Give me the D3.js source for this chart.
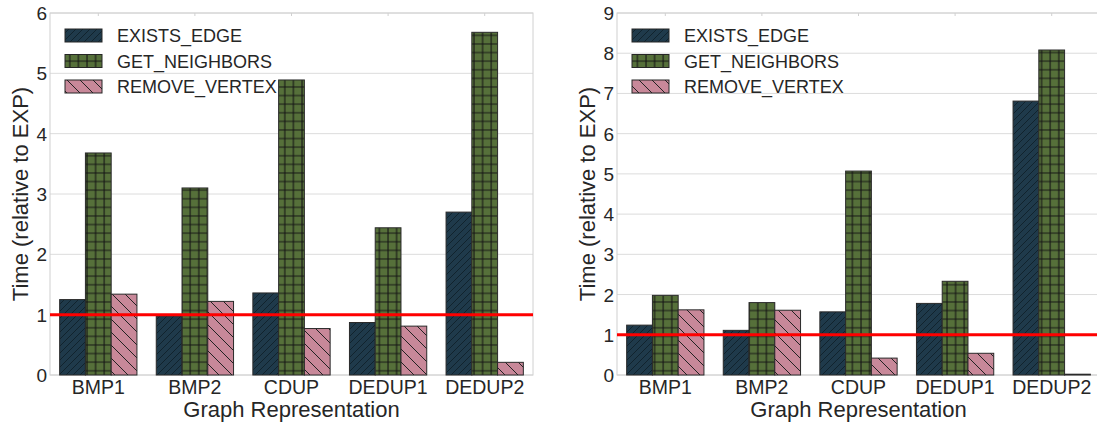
<!DOCTYPE html>
<html>
<head>
<meta charset="utf-8">
<script src="https://cdn.jsdelivr.net/npm/d3@7"></script>
<style>
  body { margin: 0; background: #fff; }
  svg { display: block; font-family: "Liberation Sans", Arial, sans-serif; }
</style>
</head>
<body>
<svg id="chart"></svg>
<script>
// chart data
const categories = ["BMP1", "BMP2", "CDUP", "DEDUP1", "DEDUP2"];
const seriesNames = ["EXISTS_EDGE", "GET_NEIGHBORS", "REMOVE_VERTEX"];

const leftExists = [1.25, 0.98, 1.36, 0.87, 2.70];
const leftNeighbors = [3.68, 3.10, 4.89, 2.44, 5.68];
const leftRemove = [1.34, 1.22, 0.77, 0.81, 0.21];

const rightExists = [1.24, 1.11, 1.57, 1.78, 6.81];
const rightNeighbors = [1.98, 1.80, 5.07, 2.33, 8.08];
const rightRemove = [1.62, 1.61, 0.42, 0.54, 0.02];

const leftTicks = [0, 1, 2, 3, 4, 5, 6];
const rightTicks = [0, 1, 2, 3, 4, 5, 6, 7, 8, 9];

const W = 1097, H = 425;
const svg = d3.select('#chart').attr('width', W).attr('height', H);

const fills = ["#1f3a4b", "#56703a", "#c88899"];
const patIds = ["hatchFwd", "hatchGrid", "hatchBack"];

// hatch patterns (aligned to page like matplotlib)
const defs = svg.append('defs');
let p = defs.append('pattern').attr('id', patIds[0]).attr('patternUnits', 'userSpaceOnUse')
  .attr('width', 7).attr('height', 7);
p.append('rect').attr('width', 7).attr('height', 7).attr('fill', fills[0]);
p.append('path').attr('d', 'M-1,1 L1,-1 M0,7 L7,0 M6,8 L8,6')
  .attr('stroke', '#0e1d26').attr('stroke-width', 0.8);

p = defs.append('pattern').attr('id', patIds[1]).attr('patternUnits', 'userSpaceOnUse')
  .attr('width', 8.6).attr('height', 8.6);
p.append('rect').attr('width', 8.6).attr('height', 8.6).attr('fill', fills[1]);
p.append('path').attr('d', 'M0,1 L8.6,1 M1,0 L1,8.6')
  .attr('stroke', '#151515').attr('stroke-width', 1.1);

p = defs.append('pattern').attr('id', patIds[2]).attr('patternUnits', 'userSpaceOnUse')
  .attr('width', 13).attr('height', 13);
p.append('rect').attr('width', 13).attr('height', 13).attr('fill', fills[2]);
p.append('path').attr('d', 'M-1,-1 L14,14 M-1,12 L1,14 M12,-1 L14,1')
  .attr('stroke', '#222').attr('stroke-width', 1);

function drawPanel(x0, x1, yMax, ticks, vals) {
  const top = 13, bottom = 375;
  const x = d3.scaleBand().domain(categories).range([x0, x1]).paddingInner(0.2).paddingOuter(0.1);
  const xs = d3.scaleBand().domain(seriesNames).range([0, x.bandwidth()]);
  const y = d3.scaleLinear().domain([0, yMax]).range([bottom, top]);
  const g = svg.append('g');

  // grid
  g.selectAll('line.grid').data(ticks).enter().append('line')
    .attr('x1', x0).attr('x2', x1)
    .attr('y1', d => y(d)).attr('y2', d => y(d))
    .attr('stroke', '#dcdcdc').attr('stroke-width', 1);

  g.append('rect').attr('x', x0).attr('y', top).attr('width', x1 - x0).attr('height', bottom - top)
    .attr('fill', 'none').attr('stroke', '#d0d0d0').attr('stroke-width', 1);

  g.selectAll('line.vt').data(categories).enter().append('line')
    .attr('x1', d => x(d) + x.bandwidth() / 2).attr('x2', d => x(d) + x.bandwidth() / 2)
    .attr('y1', top).attr('y2', top + 3)
    .attr('stroke', '#d0d0d0');

  // bars
  seriesNames.forEach((s, i) => {
    g.selectAll('rect.b' + i).data(vals[i]).enter().append('rect')
      .attr('x', (d, j) => x(categories[j]) + xs(s))
      .attr('y', d => y(d))
      .attr('width', xs.bandwidth())
      .attr('height', d => bottom - y(d))
      .attr('fill', 'url(#' + patIds[i] + ')')
      .attr('stroke', '#2a2a2a').attr('stroke-width', 1);
  });

  // reference line at 1
  g.append('line').attr('x1', x0).attr('x2', x1)
    .attr('y1', y(1)).attr('y2', y(1))
    .attr('stroke', '#ff0000').attr('stroke-width', 3);

  // y tick labels
  g.selectAll('text.yt').data(ticks).enter().append('text')
    .attr('x', x0 - 3).attr('y', d => y(d) + 7)
    .attr('text-anchor', 'end').attr('font-size', 19).attr('fill', '#262626')
    .text(d => d);

  // x tick labels
  g.selectAll('text.xt').data(categories).enter().append('text')
    .attr('x', d => x(d) + x.bandwidth() / 2).attr('y', 394)
    .attr('text-anchor', 'middle').attr('font-size', 19.5).attr('fill', '#262626')
    .text(d => d);

  g.append('text').attr('x', (x0 + x1) / 2).attr('y', 417)
    .attr('text-anchor', 'middle').attr('font-size', 22).attr('fill', '#262626')
    .text('Graph Representation');

  g.append('text')
    .attr('transform', 'translate(' + (x0 - 22) + ',' + ((top + bottom) / 2) + ') rotate(-90)')
    .attr('text-anchor', 'middle').attr('font-size', 22).attr('fill', '#262626')
    .text('Time (relative to EXP)');

  // legend
  const lg = g.append('g');
  seriesNames.forEach((s, i) => {
    const ly = 29 + i * 25.5;
    lg.append('rect').attr('x', x0 + 15).attr('y', ly).attr('width', 37).attr('height', 13)
      .attr('fill', 'url(#' + patIds[i] + ')').attr('stroke', '#262626').attr('stroke-width', 1);
    lg.append('text').attr('x', x0 + 67).attr('y', ly + 13)
      .attr('font-size', 18).attr('fill', '#262626').text(s);
  });
}

drawPanel(50, 533, 6, leftTicks, [leftExists, leftNeighbors, leftRemove]);
drawPanel(617, 1100, 9, rightTicks, [rightExists, rightNeighbors, rightRemove]);
</script>
</body>
</html>
